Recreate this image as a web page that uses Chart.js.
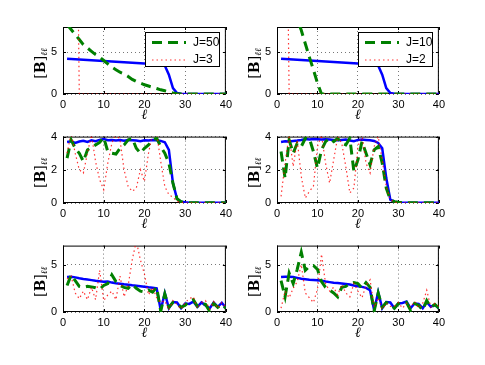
<!DOCTYPE html>
<html>
<head>
<meta charset="utf-8">
<script src="https://cdn.jsdelivr.net/npm/chart.js@4.4.0/dist/chart.umd.min.js"></script>
<style>
  body { margin: 0; background: #fff; width: 485px; height: 365px; position: relative; overflow: hidden; }
  canvas { position: absolute; }
</style>
</head>
<body>
<canvas id="c1" width="236" height="124" style="left:0;top:0"></canvas>
<canvas id="c2" width="213" height="124" style="left:236px;top:0"></canvas>
<canvas id="c3" width="236" height="109" style="left:0;top:124px"></canvas>
<canvas id="c4" width="213" height="109" style="left:236px;top:124px"></canvas>
<canvas id="c5" width="236" height="109" style="left:0;top:233px"></canvas>
<canvas id="c6" width="213" height="109" style="left:236px;top:233px"></canvas>
<script>
// l = 1..40
const ell = [1,2,3,4,5,6,7,8,9,10,11,12,13,14,15,16,17,18,19,20,
  21,22,23,24,25,26,27,28,29,30,31,32,33,34,35,36,37,38,39,40];
const xTicks = [0, 10, 20, 30, 40];
const yTicksTop = [0, 5];
const yTicksMid = [0, 2, 4];
const yTicksBot = [0, 5];

// top row
const blueTop = [4.20,4.17,4.14,4.11,4.08,4.05,4.02,3.99,3.96,3.93,
  3.90,3.87,3.84,3.81,3.78,3.75,3.72,3.69,3.66,3.63,
  3.60,3.57,3.54,3.50,3.40,2.30,0.70,0.12,0.02,0,
  0,0,0,0,0,0,0,0,0,0];
const greenJ50 = [8.3,7.7,7.1,6.5,5.9,5.5,5.1,4.7,4.4,4.0,
  3.6,3.2,2.9,2.6,2.4,2.1,1.75,1.5,1.3,1.1,
  0.95,0.8,0.65,0.5,0.38,0.25,0.12,0.03,0,0,
  0,0,0,0,0,0,0,0,0,0];
const redJ3 = [40,40,40,0,0,0,0,0,0,0,
  0,0,0,0,0,0,0,0,0,0, 0,0,0,0,0,0,0,0,0,0, 0,0,0,0,0,0,0,0,0,0];
const greenJ10 = [15.4,13.8,12.2,10.5,8.9,7.6,6.0,4.4,2.9,1.3,
  0,0,0,0,0,0,0,0,0,0, 0,0,0,0,0,0,0,0,0,0, 0,0,0,0,0,0,0,0,0,0];
const redJ2 = [40,40,0,0,0,0,0,0,0,0,
  0,0,0,0,0,0,0,0,0,0, 0,0,0,0,0,0,0,0,0,0, 0,0,0,0,0,0,0,0,0,0];

// middle row
const blueMidL = [3.68,3.72,3.62,3.70,3.75,3.68,3.78,3.72,3.80,3.86,
  3.78,3.80,3.76,3.79,3.75,3.80,3.78,3.76,3.72,3.78,
  3.76,3.80,3.78,3.74,3.66,3.20,1.20,0.25,0.08,0.04,
  0.02,0.02,0.01,0.01,0.01,0.01,0.01,0.01,0.01,0.01];
const greenMidL = [2.7,3.8,3.3,3.0,2.5,3.2,3.35,3.5,3.65,3.95,
  3.1,3.0,2.95,3.3,3.5,3.8,3.9,3.3,3.0,3.3,
  3.5,3.8,3.9,3.4,3.0,2.4,1.2,0.25,0.08,0.04,
  0.02,0.02,0.02,0.02,0.02,0.02,0.02,0.02,0.02,0.02];
const redMidL = [3.0,4.2,3.0,2.0,1.8,3.0,4.1,2.5,1.4,0.8,
  2.4,3.6,4.2,3.8,2.0,1.0,0.7,0.9,2.0,1.3,
  3.0,4.2,4.2,2.5,1.0,0.5,0.35,0.1,0.04,0.01,
  0.01,0.01,0.01,0.01,0.01,0.01,0.01,0.01,0.01,0.01];
const blueMidR = [3.68,3.72,3.70,3.74,3.76,3.80,3.85,3.82,3.86,3.84,
  3.82,3.84,3.82,3.80,3.78,3.80,3.82,3.76,3.72,3.80,
  3.82,3.80,3.78,3.74,3.62,3.30,1.50,0.20,0.08,0.04,
  0.02,0.02,0.01,0.01,0.01,0.01,0.01,0.01,0.01,0.01];
const greenMidR = [3.1,1.5,3.8,3.0,3.6,3.4,3.9,3.9,3.1,2.1,
  3.2,3.7,3.9,3.7,3.9,3.6,3.5,3.9,1.9,2.6,
  3.7,3.0,2.3,3.2,3.4,2.4,0.9,0.2,0.08,0.04,
  0.02,0.02,0.02,0.02,0.02,0.02,0.02,0.02,0.02,0.02];
const redMidR = [0.4,2.4,4.1,2.2,3.8,1.6,0.3,0.7,1.0,3.4,
  4.1,2.4,1.2,2.6,4.0,3.6,2.2,0.6,0.9,3.4,
  4.1,2.4,1.8,3.4,4.0,2.6,1.0,0.2,0.05,0.01,
  0.01,0.01,0.01,0.01,0.01,0.01,0.01,0.01,0.01,0.01];

// bottom row
const blueBotL = [3.70,3.72,3.65,3.55,3.48,3.42,3.36,3.30,3.25,3.20,
  3.22,3.10,3.02,2.98,2.92,2.88,2.82,2.77,2.72,2.66,
  2.60,2.56,2.50,0.20,2.00,0.40,1.05,1.00,0.40,0.90,
  0.85,1.10,0.55,1.00,0.70,0.38,1.00,0.55,0.97,0.45];
const greenBotL = [2.8,3.9,3.3,2.7,2.6,2.7,2.65,2.55,2.4,2.8,
  3.0,3.9,3.2,2.8,2.6,2.5,2.9,2.5,2.2,2.1,
  2.3,2.1,2.6,0.1,1.9,0.5,1.0,0.9,0.5,0.7,
  1.1,1.3,0.6,0.9,0.8,0.1,0.9,0.5,0.8,0.4];
const redBotL = [3.5,3.8,2.0,1.4,2.2,1.3,2.6,1.3,4.4,1.2,
  1.8,2.2,1.3,3.8,1.6,2.8,5.5,7.5,5.5,4.0,
  1.8,2.6,1.5,1.0,1.2,0.2,1.2,0.8,0.3,1.0,
  1.4,1.6,0.4,1.0,1.2,0.3,1.1,0.4,1.0,0.5];
const blueBotR = [3.70,3.72,3.72,3.68,3.60,3.50,3.45,3.40,3.38,3.34,
  3.30,3.22,3.15,3.08,3.05,3.00,2.95,2.90,2.80,2.72,
  2.65,2.55,2.30,0.20,2.10,0.40,1.05,1.00,0.40,0.90,
  0.95,1.10,0.40,0.90,0.85,0.40,1.05,0.55,0.75,0.40];
const greenBotR = [3.3,1.6,4.1,3.0,4.5,6.3,4.4,4.8,4.9,4.5,
  3.2,2.6,2.3,2.0,1.6,2.6,2.7,3.0,3.1,3.0,
  2.5,3.1,2.6,0.1,2.0,0.5,1.0,0.8,0.4,0.9,
  0.8,1.0,0.2,0.9,0.7,0.2,1.2,0.5,0.8,0.4];
const redBotR = [0.4,2.2,1.5,2.5,3.2,5.0,2.0,1.5,1.0,2.4,
  6.1,3.0,2.2,2.6,1.8,2.9,2.0,1.6,3.0,2.2,
  1.5,2.8,3.4,0.5,1.5,0.3,0.9,0.6,0.6,1.0,
  0.4,0.9,0.5,1.1,0.4,0.9,2.3,0.5,0.9,0.6];

const legendTopL = ["J=50", "J=3"];
const legendTopR = ["J=10", "J=2"];

Chart.defaults.font.family = "'Liberation Sans', Arial, sans-serif";
Chart.defaults.font.size = 11;
Chart.defaults.color = "#000";

const BLUE = "#0000ff", GREEN = "#008000", RED = "rgba(255,0,0,0.8)";

// axes box with inward ticks
const frame = {
  id: "frame",
  beforeDatasetsDraw(chart) {
    const { ctx, chartArea: a, scales: { x, y } } = chart;
    ctx.save();
    ctx.strokeStyle = "#000";
    ctx.lineWidth = 1;
    ctx.strokeRect(a.left + 0.5, a.top + 0.5, a.right - a.left - 1, a.bottom - a.top - 1);
    ctx.beginPath();
    x.ticks.forEach((t) => {
      const px = Math.round(x.getPixelForValue(t.value)) + 0.5;
      ctx.moveTo(px, a.bottom); ctx.lineTo(px, a.bottom - 3);
      ctx.moveTo(px, a.top); ctx.lineTo(px, a.top + 3);
    });
    y.ticks.forEach((t) => {
      const py = Math.round(y.getPixelForValue(t.value)) + 0.5;
      ctx.moveTo(a.left, py); ctx.lineTo(a.left + 3, py);
      ctx.moveTo(a.right, py); ctx.lineTo(a.right - 3, py);
    });
    ctx.stroke();
    ctx.restore();
  },
};

// [B]_ll label, rotated
const yLabel = {
  id: "yLabel",
  afterDraw(chart) {
    const { ctx, chartArea: a } = chart;
    const parts = [
      ["[", "14px 'DejaVu Serif'", 0],
      ["B", "bold 14px 'DejaVu Serif'", 0],
      ["]", "14px 'DejaVu Serif'", 0],
      ["\u2113\u2113", "italic 9px 'DejaVu Serif'", 4],
    ];
    ctx.save();
    ctx.translate(a.left - 22, (a.top + a.bottom) / 2 + 3);
    ctx.rotate(-Math.PI / 2);
    ctx.textBaseline = "middle";
    ctx.fillStyle = "#000";
    let w = 0;
    parts.forEach((p) => { ctx.font = p[1]; w += ctx.measureText(p[0]).width; });
    let px = -w / 2;
    parts.forEach((p) => {
      ctx.font = p[1];
      ctx.fillText(p[0], px, p[2]);
      px += ctx.measureText(p[0]).width;
    });
    ctx.restore();
  },
};

// legend box inside the axes (top right)
const legendBox = {
  id: "legendBox",
  afterDraw(chart, args, opts) {
    if (!opts.show) return;
    const { ctx, chartArea: a } = chart;
    const w = 74, h = 34;
    const left = Math.round(a.right - opts.right - w), top = a.top + 5;
    ctx.save();
    ctx.fillStyle = "#fff";
    ctx.fillRect(left, top, w, h);
    ctx.strokeStyle = "#000";
    ctx.lineWidth = 1;
    ctx.strokeRect(left + 0.5, top + 0.5, w, h);
    const items = chart.data.datasets.filter((d) => d.label).sort((p, q) => q.order - p.order);
    items.forEach((d, i) => {
      const yy = top + 10.5 + i * 17.5;
      ctx.beginPath();
      ctx.strokeStyle = d.borderColor;
      ctx.lineWidth = d.borderWidth;
      ctx.setLineDash(d.borderDash || []);
      ctx.moveTo(left + 7, yy);
      ctx.lineTo(left + 41, yy);
      ctx.stroke();
      ctx.setLineDash([]);
      ctx.fillStyle = "#000";
      ctx.font = "12px 'Liberation Sans'";
      ctx.textBaseline = "middle";
      ctx.fillText(d.label, left + 48, yy);
    });
    ctx.restore();
  },
};

function pts(arr) {
  return ell.map((l, i) => ({ x: l, y: arr[i] }));
}

function makePanel(id, blue, green, red, labels, yMax, yTicks, leftCol, padTop) {
  return new Chart(document.getElementById(id), {
    type: "line",
    data: {
      datasets: [
        { label: labels ? labels[1] : "", data: pts(red), borderColor: RED, borderWidth: 1.2,
          borderDash: [1.5, 3], pointRadius: 0, order: 0 },
        { label: labels ? labels[0] : "", data: pts(green), borderColor: GREEN, borderWidth: 3,
          borderDash: [10, 6], pointRadius: 0, order: 1 },
        { label: "", data: pts(blue), borderColor: BLUE, borderWidth: 2.5, pointRadius: 0, order: 2 },
      ],
    },
    options: {
      responsive: false,
      animation: false,
      layout: { padding: { left: 0, right: 10, top: padTop, bottom: 0 } },
      plugins: {
        legend: { display: false },
        tooltip: { enabled: false },
        legendBox: { show: !!labels, right: 7 },
      },
      scales: {
        x: {
          type: "linear", min: 0, max: 40,
          afterBuildTicks: (s) => { s.ticks = xTicks.map((v) => ({ value: v })); },
          afterFit: (s) => { s.height = 30; },
          grid: { color: "#777", lineWidth: 1, drawTicks: false },
          border: { display: false, dash: [1, 3] },
          ticks: { padding: 4, maxRotation: 0, autoSkip: false },
          title: { display: true, text: "\u2113", padding: 0,
            font: { family: "'DejaVu Serif'", size: 14, style: "italic" } },
        },
        y: {
          min: 0, max: yMax,
          afterBuildTicks: (s) => { s.ticks = yTicks.map((v) => ({ value: v })); },
          afterFit: (s) => { s.width = leftCol ? 63 : 41; },
          grid: { color: "#777", lineWidth: 1, drawTicks: false },
          border: { display: false, dash: [1, 3] },
          ticks: { padding: 6, autoSkip: false },
        },
      },
    },
    plugins: [frame, yLabel, legendBox],
  });
}

makePanel("c1", blueTop, greenJ50, redJ3, legendTopL, 8, yTicksTop, true, 27);
makePanel("c2", blueTop, greenJ10, redJ2, legendTopR, 8, yTicksTop, false, 27);
makePanel("c3", blueMidL, greenMidL, redMidL, null, 4, yTicksMid, true, 12);
makePanel("c4", blueMidR, greenMidR, redMidR, null, 4, yTicksMid, false, 12);
makePanel("c5", blueBotL, greenBotL, redBotL, null, 7, yTicksBot, true, 12);
makePanel("c6", blueBotR, greenBotR, redBotR, null, 7, yTicksBot, false, 12);
</script>
</body>
</html>
